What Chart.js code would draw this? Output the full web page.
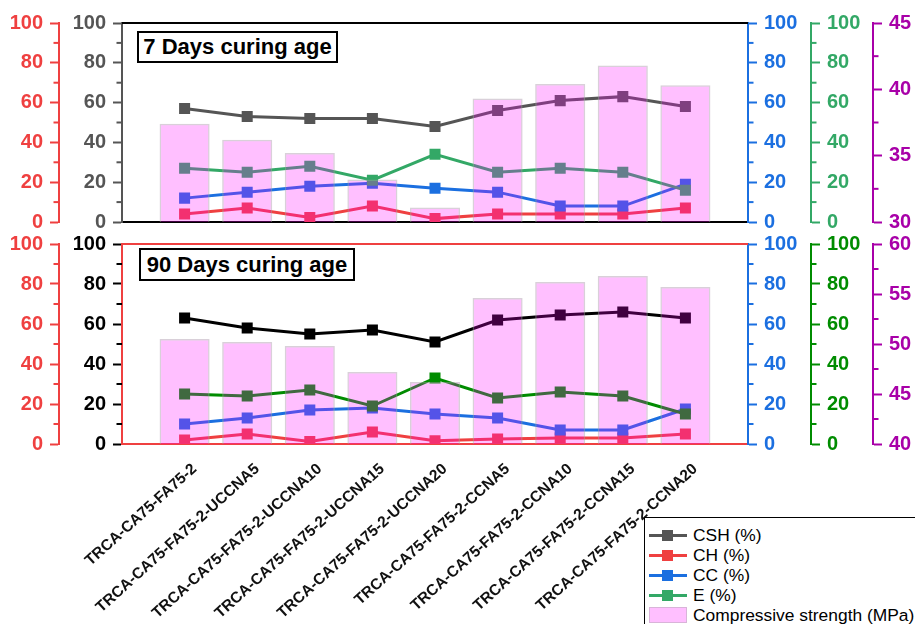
<!DOCTYPE html>
<html>
<head>
<meta charset="utf-8">
<script src="https://cdn.jsdelivr.net/npm/chart.js@4.4.1/dist/chart.umd.min.js"></script>
<style>
  body { margin: 0; background: #fff; font-family: "Liberation Sans", Arial, sans-serif; }
  #wrap { position: relative; width: 915px; height: 624px; overflow: hidden; }
  .box { position: absolute; }
  .tag { position: absolute; box-sizing: border-box; border: 2px solid #000; background: #fff;
         font-weight: bold; font-size: 22px; text-align: center; color: #000; }
  #legend { position: absolute; left: 644px; top: 517px; width: 290px; height: 120px;
            border: 1.5px solid #000; background: #fff; }
  .row { position: absolute; left: 4px; height: 20px; font-size: 17.4px; line-height: 20px; color: #000; white-space: nowrap; }
  .sw { position: absolute; left: 0; top: 0; width: 38px; height: 20px; }
  .sw .ln { position: absolute; left: 0; top: 8.5px; width: 38px; height: 3px; }
  .sw .mk { position: absolute; left: 13px; top: 4.5px; width: 11px; height: 11px; }
  .sw .bx { position: absolute; left: 0; top: 2px; width: 38px; height: 16px; box-sizing: border-box;
            background: #ffbfff; border: 1.5px solid #d9b4d9; }
  .row span.t { position: absolute; left: 44px; top: 0; }
</style>
</head>
<body>
<div id="wrap">
  <div class="box" style="left:0;top:0;width:915px;height:233px;"><canvas id="c7"></canvas></div>
  <div class="box" style="left:0;top:233px;width:915px;height:391px;"><canvas id="c90"></canvas></div>
  <div class="tag" style="left:137px;top:31px;width:201px;height:32px;line-height:28px;">7 Days curing age</div>
  <div class="tag" style="left:139px;top:248px;width:216px;height:33px;line-height:29px;">90 Days curing age</div>
  <div id="legend"></div>
</div>
<script>
// categories
const samples = [
  'TRCA-CA75-FA75-2',
  'TRCA-CA75-FA75-2-UCCNA5',
  'TRCA-CA75-FA75-2-UCCNA10',
  'TRCA-CA75-FA75-2-UCCNA15',
  'TRCA-CA75-FA75-2-UCCNA20',
  'TRCA-CA75-FA75-2-CCNA5',
  'TRCA-CA75-FA75-2-CCNA10',
  'TRCA-CA75-FA75-2-CCNA15',
  'TRCA-CA75-FA75-2-CCNA20'
];

// 7 days
const csh7 = [57, 53, 52, 52, 48, 56, 61, 63, 58];
const ch7 = [4, 7, 2.3, 8, 1.7, 4, 4, 4, 7];
const cc7 = [12, 15, 18, 19.5, 17, 15, 8, 8, 19];
const e7 = [27, 25, 28, 21, 34, 25, 27, 25, 16];
const strength7 = [37.4, 36.2, 35.2, 33.2, 31.1, 39.3, 40.4, 41.8, 40.3];

// 90 days
const csh90 = [63, 58, 55, 57, 51, 62, 64.5, 66, 63];
const ch90 = [2, 5, 1.3, 6, 1.6, 2.5, 3, 3, 5];
const cc90 = [10, 13, 17, 18, 15, 13, 7, 7, 17.5];
const e90 = [25, 24, 27, 19, 33, 23, 26, 24, 15];
const strength90 = [50.5, 50.2, 49.8, 47.2, 46.2, 54.6, 56.2, 56.8, 55.7];

// axis ranges
const pctTicks = [0, 100, 20];
const strengthTicks7 = [30, 45, 5];
const strengthTicks90 = [40, 60, 5];

const RED = '#ef4040', BLUE = '#1b6fe0', PURPLE = '#a800a8';

Chart.defaults.font.family = '"Liberation Sans", Arial, sans-serif';

// blank slot each side so the samples sit one full step in from the frame
const labels = ['', ...samples, ''];
const pad = arr => [null, ...arr, null];

const minorTicks = {
  id: 'minorTicks',
  afterDraw(chart) {
    const ctx = chart.ctx;
    for (const s of Object.values(chart.scales)) {
      if (s.axis !== 'y') continue;
      ctx.save();
      ctx.strokeStyle = s.options.grid.tickColor;
      ctx.lineWidth = 2;
      const left = s.position === 'left';
      const x0 = left ? s.right : s.left;
      for (let i = 0; i < s.ticks.length - 1; i++) {
        const y = s.getPixelForValue((s.ticks[i].value + s.ticks[i + 1].value) / 2);
        ctx.beginPath();
        ctx.moveTo(x0, y);
        ctx.lineTo(x0 + (left ? -5.5 : 5.5), y);
        ctx.stroke();
      }
      ctx.restore();
    }
  }
};

function frameTop(color) {
  return {
    id: 'frameTop',
    afterDraw(chart) {
      const a = chart.chartArea, ctx = chart.ctx;
      ctx.save();
      ctx.strokeStyle = color;
      ctx.lineWidth = 2;
      ctx.beginPath();
      ctx.moveTo(a.left, a.top);
      ctx.lineTo(a.right, a.top);
      ctx.stroke();
      ctx.restore();
    }
  };
}

function yAxis(pos, weight, range, width, border, tick, label) {
  return {
    type: 'linear', position: pos, weight: weight,
    min: range[0], max: range[1],
    border: { color: border, width: 2 },
    grid: { drawOnChartArea: false, tickColor: tick, tickLength: 9, tickWidth: 2 },
    ticks: { stepSize: range[2], color: label, padding: 7, font: { size: 20, weight: 'bold' } },
    afterFit: s => { s.width = width; s.paddingTop = 0; s.paddingBottom = 0; }
  };
}

function lineSet(name, data, color, axis, order) {
  return {
    type: 'line', label: name, data: pad(data), yAxisID: axis, order: order,
    borderColor: color, backgroundColor: color, borderWidth: 3, tension: 0,
    pointStyle: 'rect', pointRadius: 7.8, pointHoverRadius: 7.8,
    pointBackgroundColor: color, pointBorderWidth: 0
  };
}

function makeChart(id, p) {
  return new Chart(document.getElementById(id), {
    data: {
      labels: labels,
      datasets: [
        lineSet('CSH (%)', p.csh, p.cshColor, 'yCSH', 4),
        lineSet('CH (%)', p.ch, RED, 'yCH', 3),
        lineSet('CC (%)', p.cc, BLUE, 'yCC', 2),
        lineSet('E (%)', p.e, p.eColor, 'yE', 1),
        {
          type: 'bar', label: 'Compressive strength (MPa)', data: pad(p.strength), yAxisID: 'yS', order: 0,
          backgroundColor: 'rgba(255,0,255,0.25)', borderColor: 'rgba(170,150,170,0.45)', borderWidth: 1.5,
          barPercentage: 0.8, categoryPercentage: 1
        }
      ]
    },
    options: {
      responsive: true, maintainAspectRatio: false, animation: false,
      layout: { padding: p.padding, autoPadding: false },
      plugins: { legend: { display: false }, tooltip: { enabled: false } },
      scales: {
        x: {
          type: 'category', offset: false,
          border: { color: p.frameColor, width: 2 },
          grid: { display: false },
          ticks: p.xTicks,
          afterFit: s => { s.height = p.xHeight; }
        },
        yCSH: yAxis('left', 0, pctTicks, 63, p.frameColor === RED ? RED : p.cshColor, p.cshColor, p.cshColor),
        yCH: yAxis('left', 1, pctTicks, 59, RED, RED, RED),
        yCC: yAxis('right', 0, pctTicks, 63, BLUE, BLUE, BLUE),
        yE: yAxis('right', 1, pctTicks, 62, p.eColor, p.eColor, p.eColor),
        yS: yAxis('right', 2, p.sRange, 42, PURPLE, PURPLE, PURPLE)
      }
    },
    plugins: [minorTicks, frameTop(p.frameColor)]
  });
}

const chart7 = makeChart('c7', {
  csh: csh7, ch: ch7, cc: cc7, e: e7, strength: strength7,
  cshColor: '#555555', eColor: '#33a866', frameColor: '#000000',
  sRange: strengthTicks7, padding: { top: 23, bottom: 11, left: 0, right: 0 },
  xTicks: { display: false }, xHeight: 0
});

makeChart('c90', {
  csh: csh90, ch: ch90, cc: cc90, e: e90, strength: strength90,
  cshColor: '#000000', eColor: '#008c00', frameColor: RED,
  sRange: strengthTicks90, padding: { top: 11, bottom: 0, left: 0, right: 0 },
  xTicks: { autoSkip: false, minRotation: 42, maxRotation: 42, color: '#111', padding: 8, labelOffset: 10,
            font: { size: 15.5, weight: 'bold' } },
  xHeight: 180
});

// legend from the 7-day datasets
const legend = document.getElementById('legend');
chart7.data.datasets.forEach((ds, i) => {
  const row = document.createElement('div');
  row.className = 'row';
  row.style.top = (7 + i * 20) + 'px';
  const sw = document.createElement('div');
  sw.className = 'sw';
  if (ds.type === 'bar') {
    sw.innerHTML = '<div class="bx"></div>';
  } else {
    sw.innerHTML = '<div class="ln" style="background:' + ds.borderColor + '"></div>' +
                   '<div class="mk" style="background:' + ds.borderColor + '"></div>';
  }
  const t = document.createElement('span');
  t.className = 't';
  t.textContent = ds.label;
  row.appendChild(sw);
  row.appendChild(t);
  legend.appendChild(row);
});
</script>
</body>
</html>
